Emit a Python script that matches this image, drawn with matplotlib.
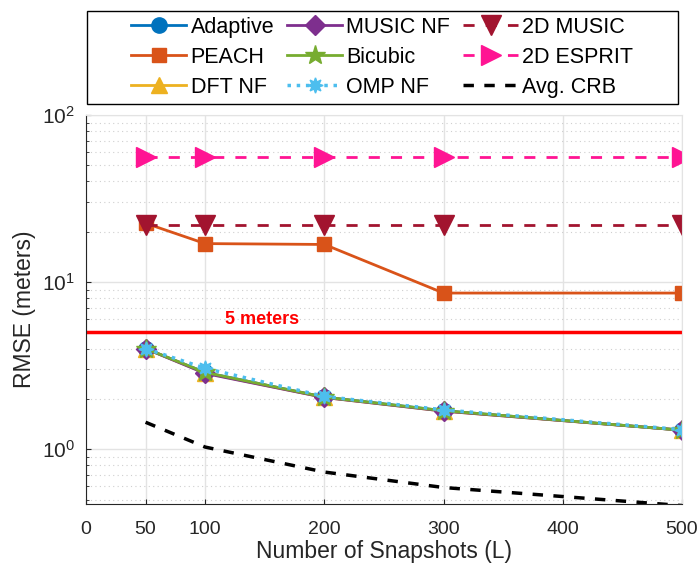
import matplotlib

matplotlib.use("Agg")
import matplotlib.pyplot as plt
from matplotlib.patches import Rectangle
from matplotlib.ticker import FixedLocator, LogLocator, NullFormatter

plt.rcParams["font.family"] = ["Liberation Sans", "DejaVu Sans"]
plt.rcParams["mathtext.fontset"] = "custom"
plt.rcParams["mathtext.rm"] = "Liberation Sans"

# Data
snapshots = [50, 100, 200, 300, 500]
adaptive = [4.0, 2.88, 2.05, 1.70, 1.30]
peach = [22.5, 17.0, 16.8, 8.6, 8.6]
dft_nf = [4.0, 2.86, 2.04, 1.69, 1.30]
music_nf = [4.0, 2.84, 2.04, 1.69, 1.30]
bicubic = [4.0, 2.88, 2.05, 1.70, 1.30]
omp_nf = [4.0, 3.05, 2.07, 1.72, 1.31]
music_2d = [22.0, 22.0, 22.0, 22.0, 22.0]
esprit_2d = [56.0, 56.0, 56.0, 56.0, 56.0]
avg_crb = [1.45, 1.03, 0.73, 0.59, 0.46]
threshold = 5.0

fig = plt.figure(figsize=(6.99, 5.73), dpi=100)
ax = fig.add_axes([0.123, 0.1204, 0.8527, 0.6789])

ms = 11
ax.plot(snapshots, adaptive, "-o", color="#0072BD", lw=2, ms=ms, label="Adaptive")
ax.plot(snapshots, peach, "-s", color="#D95319", lw=2, ms=ms - 0.5, label="PEACH")
ax.plot(snapshots, dft_nf, "-^", color="#EDB120", lw=2, ms=ms + 1, label="DFT NF")
ax.plot(snapshots, music_nf, "-D", color="#7E2F8E", lw=2, ms=ms - 1, label="MUSIC NF")
ax.plot(snapshots, bicubic, "-*", color="#77AC30", lw=2, ms=ms + 4, label="Bicubic")
ax.plot(snapshots, omp_nf, ":", marker=(8, 1, 0), color="#4DBEEE", lw=2.5, ms=ms,
        label="OMP NF")
ax.plot(snapshots, music_2d, "--v", color="#A2142F", lw=2, ms=ms + 4, dashes=(4, 4),
        label="2D MUSIC")
ax.plot(snapshots, esprit_2d, "-->", color="#FF1493", lw=2, ms=ms + 3, dashes=(4, 4),
        label="2D ESPRIT")
ax.plot(snapshots, avg_crb, "--", color="black", lw=2.5, dashes=(3, 3), label="Avg. CRB")

ax.axhline(threshold, color="#FF0000", lw=2.5, zorder=1)
ax.text(148, 5.3, "5 meters", color="#FF0000", fontsize=13, fontweight="bold",
        ha="center", va="bottom")

ax.set_yscale("log")
ax.set_xlim(0, 500)
ax.set_ylim(0.47, 100)
ax.xaxis.set_major_locator(FixedLocator([0, 50, 100, 200, 300, 400, 500]))
ax.yaxis.set_major_locator(LogLocator(base=10, numticks=10))
ax.yaxis.set_minor_locator(LogLocator(base=10, subs=range(2, 10), numticks=10))
ax.yaxis.set_minor_formatter(NullFormatter())

ax.grid(True, which="major", color="#e3e3e3", lw=1)
ax.grid(True, which="minor", axis="y", color="#cfcfcf", lw=0.8, ls=(0, (1, 3)))
ax.set_axisbelow(True)
ax.tick_params(which="both", direction="in", labelsize=14, color="#262626",
               labelcolor="#262626", right=False, top=False)
ax.tick_params(axis="x", which="major", pad=12)
ax.tick_params(axis="y", which="major", pad=8, labelsize=15)
for side in ["top", "right"]:
    ax.spines[side].set_color("#e3e3e3")
for side in ["left", "bottom"]:
    ax.spines[side].set_color("#262626")

ax.set_xlabel("Number of Snapshots (L)", fontsize=16.5, color="#262626", labelpad=2)
ax.set_ylabel("RMSE (meters)", fontsize=16.5, color="#262626", labelpad=4)

# legend: frameless, with a separately drawn box to get the wide side padding
leg = fig.legend(*ax.get_legend_handles_labels(), ncol=3, loc="center",
                 bbox_to_anchor=(0.547, 0.8997), fontsize=15.5, frameon=False,
                 handlelength=2.55, handletextpad=0.2, columnspacing=0.6,
                 labelspacing=0.42, borderpad=0.0)
fig.add_artist(Rectangle((0.1245, 0.8185), 0.8455, 0.1623, transform=fig.transFigure,
                         facecolor="none", edgecolor="black", lw=1.0))

fig.savefig("out.png", dpi=100, facecolor="white")
